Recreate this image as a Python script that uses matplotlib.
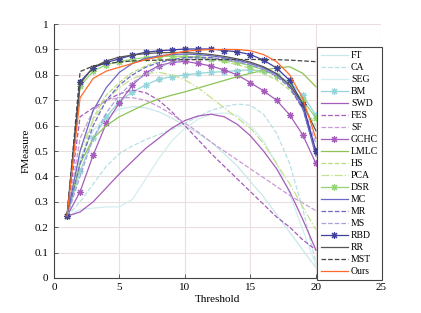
import matplotlib
matplotlib.use("Agg")
import matplotlib.pyplot as plt
import numpy as np

plt.rcParams['font.family'] = ['Liberation Serif', 'DejaVu Serif']

# thresholds
threshold = np.arange(1, 21)

# F-measure per method
FT = [0.243, 0.47, 0.58, 0.635, 0.665, 0.675, 0.67, 0.655, 0.63, 0.60,
      0.57, 0.535, 0.49, 0.44, 0.38, 0.32, 0.25, 0.18, 0.11, 0.04]
CA = [0.243, 0.30, 0.37, 0.44, 0.49, 0.52, 0.545, 0.565, 0.585, 0.61,
      0.635, 0.66, 0.675, 0.685, 0.68, 0.645, 0.57, 0.45, 0.27, 0.06]
SEG = [0.243, 0.27, 0.275, 0.28, 0.28, 0.31, 0.39, 0.47, 0.54, 0.59,
       0.625, 0.645, 0.65, 0.64, 0.60, 0.54, 0.45, 0.33, 0.19, 0.05]
BM = [0.243, 0.42, 0.55, 0.635, 0.695, 0.733, 0.76, 0.783, 0.793, 0.80,
      0.806, 0.81, 0.813, 0.817, 0.82, 0.815, 0.80, 0.77, 0.72, 0.64]
SWD = [0.243, 0.26, 0.30, 0.355, 0.41, 0.46, 0.51, 0.55, 0.59, 0.62,
       0.638, 0.645, 0.635, 0.605, 0.56, 0.50, 0.43, 0.34, 0.23, 0.11]
FES = [0.243, 0.635, 0.67, 0.70, 0.725, 0.74, 0.73, 0.70, 0.655, 0.60,
       0.545, 0.49, 0.44, 0.39, 0.34, 0.29, 0.24, 0.20, 0.15, 0.11]
SF = [0.243, 0.55, 0.66, 0.70, 0.71, 0.71, 0.70, 0.675, 0.645, 0.61,
      0.575, 0.535, 0.50, 0.465, 0.43, 0.395, 0.36, 0.325, 0.295, 0.265]
GCHC = [0.243, 0.34, 0.484, 0.609, 0.69, 0.76, 0.808, 0.836, 0.849, 0.853,
        0.845, 0.835, 0.819, 0.80, 0.769, 0.737, 0.70, 0.642, 0.563, 0.451]
LMLC = [0.243, 0.45, 0.55, 0.60, 0.635, 0.66, 0.685, 0.705, 0.72, 0.733,
        0.748, 0.763, 0.778, 0.793, 0.806, 0.818, 0.828, 0.832, 0.806, 0.753]
HS = [0.243, 0.45, 0.63, 0.72, 0.77, 0.81, 0.835, 0.855, 0.865, 0.87,
      0.868, 0.862, 0.852, 0.84, 0.825, 0.805, 0.78, 0.74, 0.68, 0.60]
PCA = [0.243, 0.50, 0.62, 0.70, 0.75, 0.785, 0.805, 0.81, 0.80, 0.78,
       0.75, 0.71, 0.67, 0.63, 0.59, 0.53, 0.45, 0.37, 0.28, 0.19]
DSR = [0.243, 0.755, 0.815, 0.84, 0.852, 0.862, 0.868, 0.872, 0.874, 0.873,
       0.87, 0.864, 0.857, 0.849, 0.836, 0.82, 0.796, 0.76, 0.70, 0.63]
MC = [0.243, 0.50, 0.66, 0.75, 0.81, 0.845, 0.865, 0.875, 0.88, 0.882,
      0.88, 0.875, 0.868, 0.858, 0.845, 0.828, 0.80, 0.755, 0.67, 0.48]
MR = [0.243, 0.45, 0.60, 0.70, 0.76, 0.80, 0.83, 0.848, 0.86, 0.868,
      0.87, 0.868, 0.862, 0.853, 0.84, 0.822, 0.795, 0.75, 0.665, 0.50]
MS = [0.243, 0.40, 0.55, 0.65, 0.72, 0.77, 0.80, 0.83, 0.85, 0.86,
      0.865, 0.864, 0.86, 0.852, 0.84, 0.823, 0.797, 0.755, 0.68, 0.53]
RBD = [0.243, 0.773, 0.828, 0.849, 0.863, 0.878, 0.889, 0.895, 0.898, 0.902,
       0.902, 0.902, 0.896, 0.891, 0.88, 0.858, 0.827, 0.778, 0.685, 0.50]
RR = [0.243, 0.765, 0.83, 0.855, 0.87, 0.878, 0.884, 0.887, 0.888, 0.888,
      0.885, 0.88, 0.873, 0.863, 0.85, 0.832, 0.805, 0.76, 0.685, 0.58]
MST = [0.243, 0.813, 0.835, 0.845, 0.85, 0.855, 0.857, 0.858, 0.859, 0.86,
       0.86, 0.86, 0.86, 0.86, 0.861, 0.86, 0.86, 0.858, 0.855, 0.852]
Ours = [0.243, 0.71, 0.786, 0.815, 0.83, 0.845, 0.86, 0.871, 0.883, 0.893,
        0.897, 0.90, 0.90, 0.90, 0.895, 0.88, 0.852, 0.80, 0.707, 0.55]

names = ["FT", "CA", "SEG", "BM", "SWD", "FES", "SF", "GCHC", "LMLC", "HS",
         "PCA", "DSR", "MC", "MR", "MS", "RBD", "RR", "MST", "Ours"]
values = [FT, CA, SEG, BM, SWD, FES, SF, GCHC, LMLC, HS,
          PCA, DSR, MC, MR, MS, RBD, RR, MST, Ours]

ast = (8, 2, 0)  # matlab style asterisk
styles = {
    "FT":   dict(color="#c9e8ea", ls="-"),
    "CA":   dict(color="#b9e0e4", ls="--"),
    "SEG":  dict(color="#d3eef0", ls="-"),
    "BM":   dict(color="#93d5d8", ls="-", marker=ast),
    "SWD":  dict(color="#a65cbb", ls="-"),
    "FES":  dict(color="#a65cbb", ls="--"),
    "SF":   dict(color="#c99ad6", ls="--"),
    "GCHC": dict(color="#a65cbb", ls="-", marker=ast),
    "LMLC": dict(color="#8bc456", ls="-"),
    "HS":   dict(color="#b9dc7c", ls="--"),
    "PCA":  dict(color="#c5e08e", ls="-."),
    "DSR":  dict(color="#95d474", ls="-", marker=ast),
    "MC":   dict(color="#6d68c6", ls="-"),
    "MR":   dict(color="#6d68c6", ls="--"),
    "MS":   dict(color="#a6a2de", ls="--"),
    "RBD":  dict(color="#40409e", ls="-", marker=ast),
    "RR":   dict(color="#555555", ls="-"),
    "MST":  dict(color="#444444", ls="--"),
    "Ours": dict(color="#ff6a2a", ls="-"),
}

fig = plt.figure(figsize=(4.21, 3.13), dpi=100)
ax = fig.add_axes([0.128, 0.112, 0.778, 0.811])

for name, v in zip(names, values):
    st = styles[name]
    ax.plot(threshold, v, color=st["color"], linestyle=st["ls"], linewidth=0.9,
            marker=st.get("marker"), markersize=5, markeredgewidth=0.8,
            label=name)

ax.set_xlim(0, 25)
ax.set_ylim(0, 1)
ax.set_xticks(np.arange(0, 26, 5))
ax.set_yticks(np.arange(0, 1.01, 0.1))
ax.set_yticklabels(["0"] + [f"{t:.1f}" for t in np.arange(0.1, 1.0, 0.1)] + ["1"])
ax.grid(True, color="#eadede", linewidth=0.8)
ax.set_axisbelow(True)
for s in ["top", "right"]:
    ax.spines[s].set_visible(False)
for s in ["left", "bottom"]:
    ax.spines[s].set_color("#444444")
    ax.spines[s].set_linewidth(0.8)
ax.tick_params(direction="in", length=3, width=0.6, color="#444444",
               labelsize=8, pad=4)
ax.set_xlabel("Threshold", fontsize=8, labelpad=2)
ax.set_ylabel("FMeasure", fontsize=8, labelpad=3)

leg = ax.legend(loc="upper left", bbox_to_anchor=(0.803, 0.909),
                borderaxespad=0, fontsize=7, labelspacing=0.31,
                handlelength=2.8, handletextpad=0.3, borderpad=0.4,
                fancybox=False, framealpha=1)
leg.get_frame().set_edgecolor("#444444")
leg.get_frame().set_linewidth(0.8)

fig.savefig("out.png", dpi=100)
